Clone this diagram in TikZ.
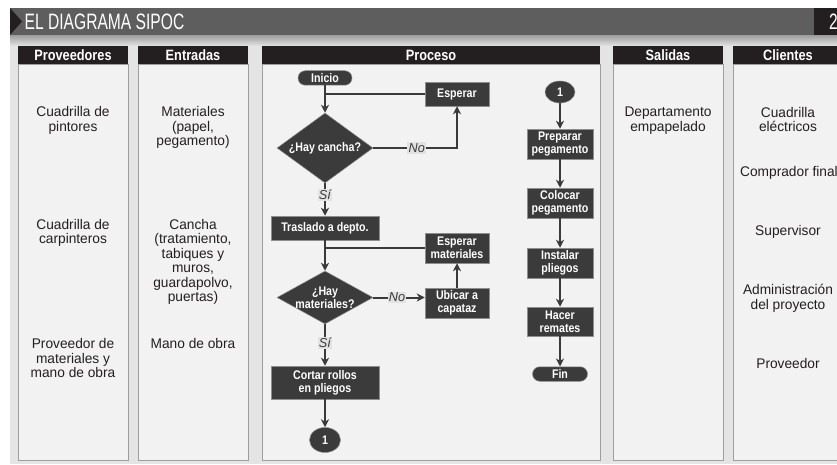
\documentclass[tikz,border=0pt]{standalone}
\usepackage{fontspec}
\setmainfont{Liberation Sans}
\newfontfamily\bodyfont{Liberation Sans}[FakeStretch=0.98]
\newfontfamily\headfont{Liberation Sans}[FakeStretch=0.85]
\newfontfamily\boxfont{Liberation Sans}[FakeStretch=0.85]
\newfontfamily\titlefont{Liberation Sans}[FakeStretch=0.70]
\usetikzlibrary{shapes.geometric,shapes.misc,arrows.meta}

\definecolor{bargray}{HTML}{5E5E5E}
\definecolor{panelgray}{HTML}{E4E4E5}
\definecolor{shadegray}{HTML}{9C9C9C}
\definecolor{headblack}{HTML}{231F20}
\definecolor{colbody}{HTML}{F2F2F2}
\definecolor{colborder}{HTML}{9E9E9E}
\definecolor{boxfill}{HTML}{3B3B3B}
\definecolor{boxedge}{HTML}{8E8E8E}
\definecolor{linecol}{HTML}{3A3A3A}
\definecolor{lblfill}{HTML}{E2E2E2}
\definecolor{textcol}{HTML}{231F20}

\tikzset{
  colbox/.style={draw=colborder, fill=colbody, line width=0.8pt},
  colhead/.style={fill=headblack},
  headtext/.style={text=white, inner sep=0pt, font=\headfont\bfseries\fontsize{15}{15}\selectfont},
  bodytext/.style={anchor=north, inner sep=0pt, align=center, text=textcol,
    font=\bodyfont\fontsize{14}{14.5}\selectfont},
  flowbox/.style={rectangle, draw=boxedge, line width=0.5pt, fill=boxfill, text=white,
    align=center, inner sep=0pt, font=\boxfont\bfseries\fontsize{12.5}{12.6}\selectfont},
  termbox/.style={rounded rectangle, draw=boxedge, line width=0.5pt, fill=boxfill, text=white,
    inner sep=0pt, minimum height=14.5pt, font=\boxfont\bfseries\fontsize{12.5}{12.6}\selectfont},
  decision/.style={diamond, draw=boxedge, line width=0.5pt, fill=boxfill, inner sep=0pt},
  dtext/.style={text=white, align=center, inner sep=0pt,
    font=\boxfont\bfseries\fontsize{12.5}{12.6}\selectfont},
  joint/.style={ellipse, draw=boxedge, line width=0.5pt, fill=boxfill, text=white, inner sep=0pt,
    font=\boxfont\bfseries\fontsize{12.5}{12.6}\selectfont},
  ln/.style={draw=linecol, line width=2pt},
  arr/.style={draw=linecol, line width=2pt, -{Stealth[length=8pt,width=8pt,inset=2.5pt]}},
  lbl/.style={fill=lblfill, inner sep=1.2pt, text=linecol,
    font=\bodyfont\itshape\fontsize{13}{13}\selectfont},
}

\begin{document}
\begin{tikzpicture}[x=1pt,y=-1pt]
\clip (0,0) rectangle (837,465);
\useasboundingbox (0,0) rectangle (837,465);

% panel and title band
\fill[panelgray] (10,35) rectangle (837,464);
\shade[top color=shadegray, bottom color=panelgray] (10,35) rectangle (837,46);
\fill[bargray] (10,8) rectangle (814,35);
\fill[headblack] (10,8) -- (22,21.5) -- (10,35) -- cycle;
\fill[headblack] (814,8) rectangle (837,35);
\node[anchor=west, inner sep=0pt, text=white, font=\titlefont\fontsize{22.3}{22.3}\selectfont]
  (title) at (24.5,22) {EL DIAGRAMA SIPOC};
\node[anchor=west, inner sep=0pt, text=white, font=\titlefont\fontsize{22.3}{22.3}\selectfont]
  (pagenum) at (829,22) {2};

% columns
\foreach \xa/\xb in {18/128, 138/248, 262/600, 613/723, 733/843}{
  \draw[colbox] (\xa,64) rectangle (\xb,460);
  \fill[colhead] (\xa,46) rectangle (\xb,64);
}
\node[headtext] (hprov) at (73,55.5) {Proveedores};
\node[headtext] (hentr) at (193,55.5) {Entradas};
\node[headtext] (hproc) at (431,55.5) {Proceso};
\node[headtext] (hsal)  at (668,55.5) {Salidas};
\node[headtext] (hcli)  at (788,55.5) {Clientes};

% suppliers
\node[bodytext] (p1) at (73,106.5) {Cuadrilla de\\pintores};
\node[bodytext] (p2) at (73,219) {Cuadrilla de\\carpinteros};
\node[bodytext] (p3) at (73,338.5) {Proveedor de\\materiales y\\mano de obra};
% inputs
\node[bodytext] (e1) at (193,106.5) {Materiales\\(papel,\\pegamento)};
\node[bodytext] (e2) at (193,219) {Cancha\\(tratamiento,\\tabiques y\\muros,\\guardapolvo,\\puertas)};
\node[bodytext] (e3) at (193,338.5) {Mano de obra};
% outputs
\node[bodytext] (s1) at (668,107) {Departamento\\empapelado};
% customers
\node[bodytext] (c1t) at (788,107) {Cuadrilla\\eléctricos};
\node[bodytext] (c2t) at (789,166.5) {Comprador final};
\node[bodytext] (c3t) at (788,225.5) {Supervisor};
\node[bodytext] (c4t) at (788,284) {Administración\\del proyecto};
\node[bodytext] (c5t) at (788,358) {Proveedor};

% process: first branch
\node[termbox, minimum width=54pt] (inicio) at (325,78) {Inicio};
\node[flowbox, minimum width=64pt, minimum height=24pt] (esp1) at (457,94) {Esperar};
\node[decision, minimum width=96pt, minimum height=70pt] (d1) at (325,148) {};
\node[dtext] (d1t) at (d1) {¿Hay cancha?};
\node[flowbox, minimum width=108pt, minimum height=24pt] (tras) at (325,228) {Traslado a depto.};
\node[flowbox, minimum width=64pt, minimum height=30pt] (espm) at (457,248) {Esperar\\materiales};
\node[decision, minimum width=96pt, minimum height=53pt] (d2) at (325,297.5) {};
\node[dtext] (d2t) at (d2) {¿Hay\\materiales?};
\node[flowbox, minimum width=64pt, minimum height=30pt] (ubic) at (457,303) {Ubicar a\\capataz};
\node[flowbox, minimum width=108pt, minimum height=33pt] (cortar) at (325,382.5) {Cortar rollos\\en pliegos};
\node[joint, minimum width=31pt, minimum height=25pt] (j1) at (325,440) {1};

\draw[arr] (inicio.south) -- (d1.north);
\draw[ln] (esp1.west) -- (esp1.west -| inicio.south);
\draw[arr] (d1.east) -| node[lbl, pos=0.26] (no1) {No} (esp1.south);
\draw[arr] (d1.south) -- node[lbl, pos=0.36] (si1) {Sí} (tras.north);
\draw[arr] (tras.south) -- (d2.north);
\draw[ln] (espm.west) -- (espm.west -| tras.south);
\draw[arr] (d2.east) -- node[lbl, pos=0.46] (no2) {No} (d2.east -| ubic.west);
\draw[arr] (ubic.north) -- (espm.south);
\draw[arr] (d2.south) -- node[lbl, pos=0.45] (si2) {Sí} (cortar.north);
\draw[arr] (cortar.south) -- (j1.north);

% process: second branch
\node[joint, minimum width=30pt, minimum height=22pt] (j2) at (560,92) {1};
\node[flowbox, minimum width=66pt, minimum height=30pt] (prep) at (560,144) {Preparar\\pegamento};
\node[flowbox, minimum width=66pt, minimum height=30pt] (coloc) at (560,203) {Colocar\\pegamento};
\node[flowbox, minimum width=66pt, minimum height=30pt] (inst) at (560,263) {Instalar\\pliegos};
\node[flowbox, minimum width=66pt, minimum height=29pt] (hacer) at (560,321.5) {Hacer\\remates};
\node[termbox, minimum width=55pt] (fin) at (560,374) {Fin};

\draw[arr] (j2.south) -- (prep.north);
\draw[arr] (prep.south) -- (coloc.north);
\draw[arr] (coloc.south) -- (inst.north);
\draw[arr] (inst.south) -- (hacer.north);
\draw[arr] (hacer.south) -- (fin.north);
\end{tikzpicture}
\end{document}
